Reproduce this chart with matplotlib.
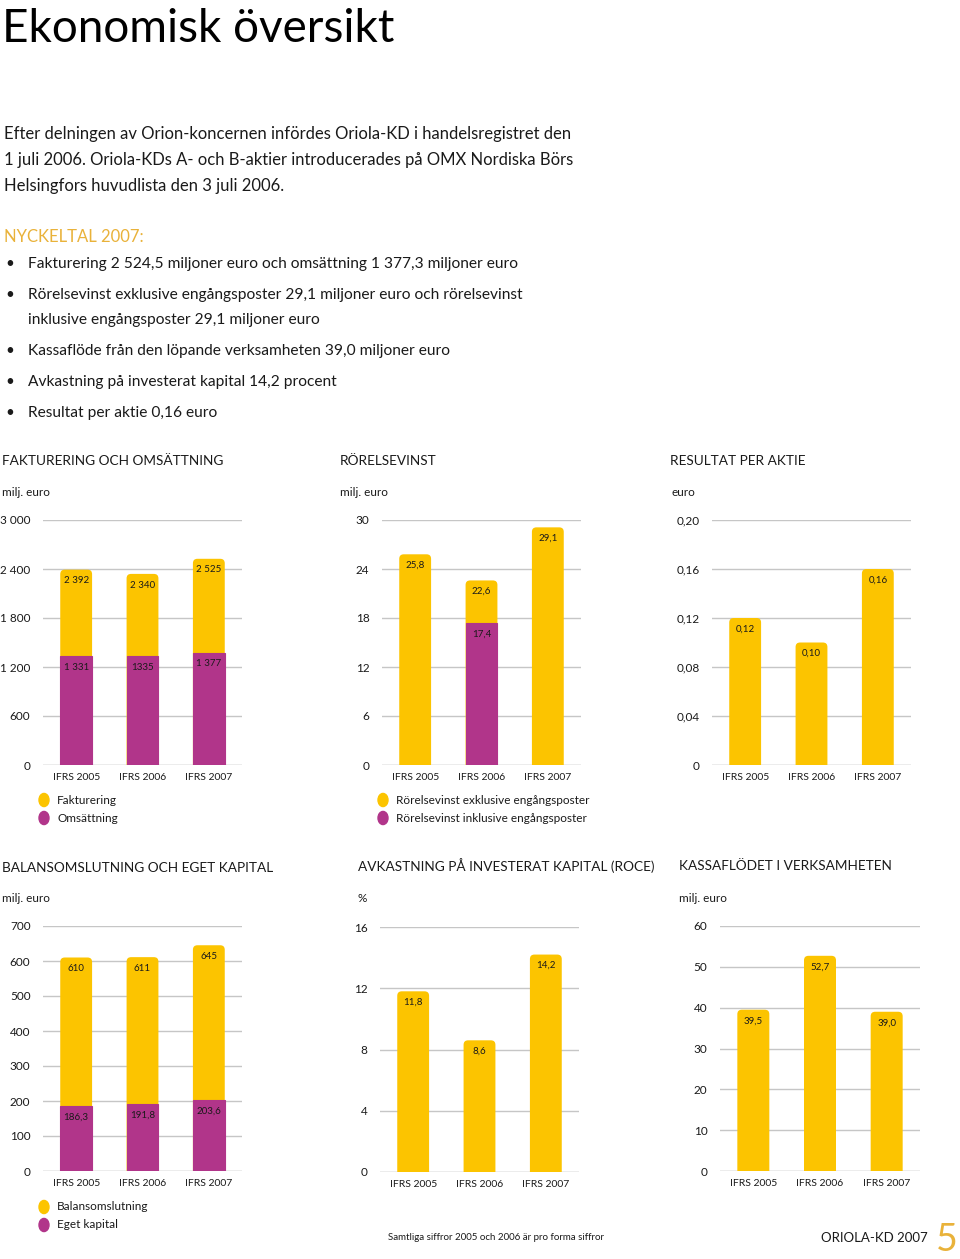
import matplotlib
matplotlib.use("Agg")
import matplotlib.pyplot as plt
from matplotlib.patches import FancyBboxPatch, Circle
import numpy as np

plt.rcParams['font.family'] = ['Lato', 'DejaVu Sans']

# ---------------- data ----------------
years = ["IFRS 2005", "IFRS 2006", "IFRS 2007"]

fakturering = [2392, 2340, 2525]
omsattning = [1331, 1335, 1377]
fakt_labels = ["2 392", "2 340", "2 525"]
oms_labels = ["1 331", "1335", "1 377"]

rv_exkl = [25.8, 22.6, 29.1]
rv_inkl = [np.nan, 17.4, np.nan]   # only shown where it differs
rv_exkl_labels = ["25,8", "22,6", "29,1"]
rv_inkl_labels = ["", "17,4", ""]

eps = [0.12, 0.10, 0.16]
eps_labels = ["0,12", "0,10", "0,16"]

balans = [610, 611, 645]
eget = [186.3, 191.8, 203.6]
balans_labels = ["610", "611", "645"]
eget_labels = ["186,3", "191,8", "203,6"]

roce = [11.8, 8.6, 14.2]
roce_labels = ["11,8", "8,6", "14,2"]

kassa = [39.5, 52.7, 39.0]
kassa_labels = ["39,5", "52,7", "39,0"]

ticks_fakt = [0, 600, 1200, 1800, 2400, 3000]
ticklab_fakt = ["0", "600", "1 200", "1 800", "2 400", "3 000"]
ticks_rv = [0, 6, 12, 18, 24, 30]
ticklab_rv = ["0", "6", "12", "18", "24", "30"]
ticks_eps = [0, 0.04, 0.08, 0.12, 0.16, 0.20]
ticklab_eps = ["0", "0,04", "0,08", "0,12", "0,16", "0,20"]
ticks_bal = [0, 100, 200, 300, 400, 500, 600, 700]
ticklab_bal = ["0", "100", "200", "300", "400", "500", "600", "700"]
ticks_roce = [0, 4, 8, 12, 16]
ticklab_roce = ["0", "4", "8", "12", "16"]
ticks_kassa = [0, 10, 20, 30, 40, 50, 60]
ticklab_kassa = ["0", "10", "20", "30", "40", "50", "60"]

YELLOW = "#FCC400"
PURPLE = "#B1358A"
GOLD = "#E9B23A"
TXT = "#1a1a1a"
GRID = "#c6c6c6"

W, H = 960, 1259
fig = plt.figure(figsize=(W / 100, H / 100), dpi=100)


def ftext(x, y, s, **kw):
    kw.setdefault("color", TXT)
    kw.setdefault("va", "center")
    return fig.text(x / W, 1 - y / H, s, **kw)


def make_ax(x0, x1, ytop, ybot):
    return fig.add_axes([x0 / W, 1 - ybot / H, (x1 - x0) / W, (ybot - ytop) / H])


def style_ax(ax, ticks, ticklabels):
    ax.set_xlim(-0.5, 2.5)
    ax.set_ylim(0, ticks[-1])
    for s in ax.spines.values():
        s.set_visible(False)
    for t in ticks:
        ax.axhline(t, color="#a0a0a0" if t == 0 else GRID, lw=1.0, zorder=0)
    ax.set_yticks(ticks)
    ax.set_yticklabels(ticklabels)
    ax.set_xticks(range(len(years)))
    ax.set_xticklabels(years)
    ax.tick_params(axis="y", length=0, pad=9, labelsize=8.5, colors=TXT)
    ax.tick_params(axis="x", length=0, pad=6, labelsize=7.5, colors=TXT)


def rounded_bars(ax, vals, color, z=2, r_px=4.5):
    """Draw bars with ax.bar, then give them rounded top corners."""
    bars = ax.bar(np.arange(len(vals)), vals, width=BW, color=color, zorder=z)
    bb = ax.get_window_extent()
    x0, x1 = ax.get_xlim()
    y0, y1 = ax.get_ylim()
    xpp = (x1 - x0) / bb.width
    ypp = (y1 - y0) / bb.height
    aspect = ypp / xpp
    r = r_px * xpp
    for rect in bars:
        h = rect.get_height()
        if np.isnan(h):
            continue
        below = 3 * r_px * ypp
        p = FancyBboxPatch((rect.get_x(), -below), rect.get_width(), h + below,
                           boxstyle=f"round,pad=0,rounding_size={r}",
                           mutation_aspect=aspect, facecolor=color, edgecolor="none",
                           zorder=z, clip_on=True)
        ax.add_patch(p)
        p.set_clip_path(ax.patch)
        rect.set_visible(False)
    return bars


def purple_bars(ax, vals):
    return ax.bar(np.arange(len(vals)), vals, width=BW, color=PURPLE,
                  edgecolor=PURPLE, linewidth=0.8, zorder=3)


def bar_labels(ax, vals, labels):
    for i, (v, l) in enumerate(zip(vals, labels)):
        if l and not np.isnan(v):
            ax.annotate(l, (i, v), xytext=(0, -8), textcoords="offset points",
                        ha="center", va="center", fontsize=7, color=TXT)


BW = 0.48

# ---------------- text ----------------
ftext(2, 42, "Ekonomisk översikt", fontsize=33, color="#000000", va="baseline")
body = ["Efter delningen av Orion-koncernen infördes Oriola-KD i handelsregistret den",
        "1 juli 2006. Oriola-KDs A- och B-aktier introducerades på OMX Nordiska Börs",
        "Helsingfors huvudlista den 3 juli 2006."]
for i, line in enumerate(body):
    ftext(4, 134 + 26 * i, line, fontsize=12)

ftext(4, 237, "NYCKELTAL 2007:", fontsize=12, color=GOLD)
bullets = [(264, "Fakturering 2 524,5 miljoner euro och omsättning 1 377,3 miljoner euro", True),
           (295, "Rörelsevinst exklusive engångsposter 29,1 miljoner euro och rörelsevinst", True),
           (320, "inklusive engångsposter 29,1 miljoner euro", False),
           (351, "Kassaflöde från den löpande verksamheten 39,0 miljoner euro", True),
           (382, "Avkastning på investerat kapital 14,2 procent", True),
           (413, "Resultat per aktie 0,16 euro", True)]
for y, s, b in bullets:
    if b:
        ftext(5, y, "•", fontsize=11)
    ftext(28, y, s, fontsize=11.2)

# section headers
HS = 9.8
ftext(2, 461, "FAKTURERING OCH OMSÄTTNING", fontsize=HS)
ftext(340, 461, "RÖRELSEVINST", fontsize=HS)
ftext(670, 461, "RESULTAT PER AKTIE", fontsize=HS)
ftext(2, 492, "milj. euro", fontsize=8.5)
ftext(340, 492, "milj. euro", fontsize=8.5)
ftext(671, 492, "euro", fontsize=8.5)

ftext(2, 868, "BALANSOMSLUTNING OCH EGET KAPITAL", fontsize=HS)
ftext(358, 866, "AVKASTNING PÅ INVESTERAT KAPITAL (ROCE)", fontsize=HS)
ftext(679, 866, "KASSAFLÖDET I VERKSAMHETEN", fontsize=HS)
ftext(2, 899, "milj. euro", fontsize=8.5)
ftext(358, 899, "%", fontsize=8.5)
ftext(679, 899, "milj. euro", fontsize=8.5)

# ---------------- charts ----------------
# 1 Fakturering och omsättning
ax1 = make_ax(43, 242, 520, 765)
style_ax(ax1, ticks_fakt, ticklab_fakt)
rounded_bars(ax1, fakturering, YELLOW)
purple_bars(ax1, omsattning)
bar_labels(ax1, fakturering, fakt_labels)
bar_labels(ax1, omsattning, oms_labels)

# 2 Rörelsevinst
ax2 = make_ax(382, 581, 520, 765)
style_ax(ax2, ticks_rv, ticklab_rv)
rounded_bars(ax2, rv_exkl, YELLOW)
purple_bars(ax2, rv_inkl)
bar_labels(ax2, rv_exkl, rv_exkl_labels)
bar_labels(ax2, rv_inkl, rv_inkl_labels)

# 3 Resultat per aktie
ax3 = make_ax(712, 911, 520, 765)
style_ax(ax3, ticks_eps, ticklab_eps)
rounded_bars(ax3, eps, YELLOW)
bar_labels(ax3, eps, eps_labels)

# 4 Balansomslutning och eget kapital
ax4 = make_ax(43, 242, 926, 1171)
style_ax(ax4, ticks_bal, ticklab_bal)
rounded_bars(ax4, balans, YELLOW)
purple_bars(ax4, eget)
bar_labels(ax4, balans, balans_labels)
bar_labels(ax4, eget, eget_labels)

# 5 ROCE
ax5 = make_ax(380, 579, 927, 1172)
style_ax(ax5, ticks_roce, ticklab_roce)
rounded_bars(ax5, roce, YELLOW)
bar_labels(ax5, roce, roce_labels)

# 6 Kassaflöde
ax6 = make_ax(720, 920, 926, 1171)
style_ax(ax6, ticks_kassa, ticklab_kassa)
rounded_bars(ax6, kassa, YELLOW)
bar_labels(ax6, kassa, kassa_labels)

# ---------------- legends ----------------
def legend_item(xc, y, color, label):
    fig.patches.append(Circle((xc / W, 1 - y / H), 5 / W, color=color,
                              transform=fig.transFigure, figure=fig))
    ftext(xc + 13, y, label, fontsize=8.5)

legend_item(44, 800, YELLOW, "Fakturering")
legend_item(44, 818, PURPLE, "Omsättning")
legend_item(383, 800, YELLOW, "Rörelsevinst exklusive engångsposter")
legend_item(383, 818, PURPLE, "Rörelsevinst inklusive engångsposter")
legend_item(44, 1207, YELLOW, "Balansomslutning")
legend_item(44, 1225, PURPLE, "Eget kapital")

# ---------------- footer ----------------
ftext(388, 1238, "Samtliga siffror 2005 och 2006 är pro forma siffror", fontsize=7)
ftext(928, 1238, "ORIOLA-KD 2007", fontsize=9.5, ha="right")
ftext(947, 1240, "5", fontsize=27, ha="center", color=GOLD)

fig.savefig("out.png", dpi=100)
